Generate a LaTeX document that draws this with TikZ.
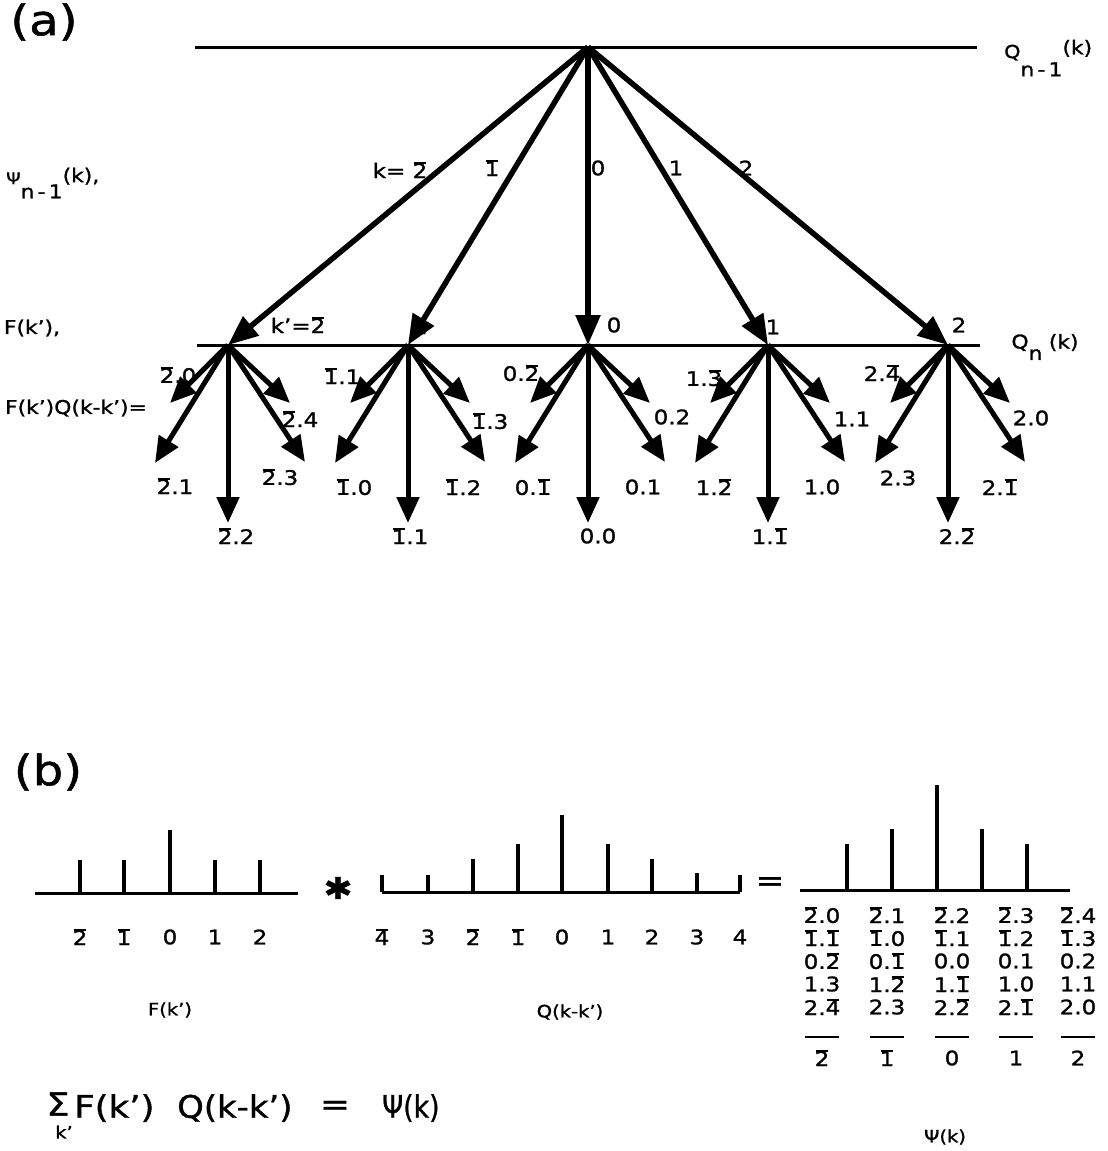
\documentclass[tikz,border=0pt]{standalone}
\usepackage{fontspec}
\setmainfont{DejaVu Sans}[FakeStretch=1.15,FakeBold=1.2]
\usetikzlibrary{arrows.meta}
\newcommand\ob[1]{\setbox0\hbox{#1}\rlap{\hbox to\wd0{\hss\rule[0.68em]{0.85\wd0}{0.12em}\hss}}#1}
\newcommand\fs[1]{\fontsize{#1}{#1}\selectfont}
\tikzset{
  axisline/.style={line width=3pt},
  bigarrow/.style={line width=5.5pt,-{Triangle[length=30pt,width=24pt]}},
  smallarrow/.style={line width=5pt,-{Triangle[length=26pt,width=22pt]}},
  lbl/.style={font=\fs{20}, inner sep=0pt},
  side/.style={font=\fs{19}, inner sep=0pt},
  tiny/.style={font=\fs{17}, inner sep=0pt},
  stem/.style={line width=4.5pt},
  tbl/.style={font=\fs{20}, inner sep=0pt},
  eqn/.style={font=\fs{31}, inner sep=0pt}
}
\begin{document}
\begin{tikzpicture}[x=1pt,y=-1pt]
\useasboundingbox[fill=white] (0,0) rectangle (1108,1151);
% ---------------- (a)
\node[font=\fs{42},inner sep=0pt] (pa) at (44,22) {(a)};
\coordinate (L1) at (195,47); \coordinate (R1) at (977,47);
\draw[axisline] (L1) -- (R1);
\coordinate (T) at (588,47);
\foreach \n/\x in {1/228,2/408,3/588,4/768,5/948} \coordinate (N\n) at (\x,345);
\coordinate (L2) at (197,345); \coordinate (R2) at (980,345);
\draw[axisline] (L2) -- (R2);
\foreach \n in {1,...,5} \draw[bigarrow] (T) -- (N\n);
\foreach \n in {1,...,5} {
  \coordinate (N\n-a) at ([shift={(-58,58)}]N\n);
  \coordinate (N\n-b) at ([shift={(-73,118)}]N\n);
  \coordinate (N\n-c) at ([shift={(0,178)}]N\n);
  \coordinate (N\n-d) at ([shift={(62,58)}]N\n);
  \coordinate (N\n-e) at ([shift={(77,117)}]N\n);
  \draw[smallarrow] (N\n) -- (N\n-a);
  \draw[smallarrow] (N\n) -- (N\n-b);
  \draw[smallarrow] (N\n) -- (N\n-c);
  \draw[smallarrow] (N\n) -- (N\n-d);
  \draw[smallarrow] (N\n) -- (N\n-e);
}
% side labels
\node[side,anchor=west] (qn1) at (1004,58) {{\fs{18}Q}\raisebox{-0.95em}{n\,-\,1}\raisebox{0.2em}{(k)}};
\node[side,anchor=west] (psin1) at (6,183) {{\fs{16}Ψ}\raisebox{-0.75em}{n\,-\,1}\raisebox{0.1em}{(k),}};
\node[side] (qn) at (1045,347) {Q\raisebox{-0.6em}{n}\,\,(k)};
\node[side] (fk) at (32,328) {F(k'),};
\node[side] (fkq) at (76,408) {F(k')Q(k-k')=};
% first-level labels
\node[lbl] (k1) at (400,170) {k= \ob{2}};
\node[lbl] (k2) at (492,168) {\ob{1}};
\node[lbl] (k3) at (598,168) {0};
\node[lbl] (k4) at (676,168) {1};
\node[lbl] (k5) at (746,168) {2};
\node[lbl] (kp1) at (298,325) {k'=\ob{2}};
\node[lbl] (kp2) at (420,326) {\ob{1}};
\node[lbl] (kp3) at (614,325) {0};
\node[lbl] (kp4) at (773,327) {1};
\node[lbl] (kp5) at (959,325) {2};
% second-level labels
\node[lbl] (g1a) at (178,375) {\ob{2}.0};
\node[lbl] (g1d) at (300,419) {\ob{2}.4};
\node[lbl] (g1b) at (175,486) {\ob{2}.1};
\node[lbl] (g1e) at (280,477) {\ob{2}.3};
\node[lbl] (g1c) at (236,536) {\ob{2}.2};
\node[lbl] (g2a) at (342,376) {\ob{1}.1};
\node[lbl] (g2d) at (490,421) {\ob{1}.3};
\node[lbl] (g2b) at (354,487) {\ob{1}.0};
\node[lbl] (g2e) at (463,487) {\ob{1}.2};
\node[lbl] (g2c) at (410,536) {\ob{1}.1};
\node[lbl] (g3a) at (521,373) {0.\ob{2}};
\node[lbl] (g3d) at (672,417) {0.2};
\node[lbl] (g3b) at (533,487) {0.\ob{1}};
\node[lbl] (g3e) at (643,487) {0.1};
\node[lbl] (g3c) at (598,536) {0.0};
\node[lbl] (g4a) at (704,378) {1.\ob{3}};
\node[lbl] (g4d) at (852,419) {1.1};
\node[lbl] (g4b) at (714,487) {1.\ob{2}};
\node[lbl] (g4e) at (822,487) {1.0};
\node[lbl] (g4c) at (770,536) {1.\ob{1}};
\node[lbl] (g5a) at (882,373) {2.\ob{4}};
\node[lbl] (g5d) at (1031,418) {2.0};
\node[lbl] (g5b) at (898,478) {2.3};
\node[lbl] (g5e) at (1000,487) {2.\ob{1}};
\node[lbl] (g5c) at (957,536) {2.\ob{2}};
% ---------------- (b)
\node[font=\fs{42},inner sep=0pt] (pb) at (48,772) {(b)};
% F(k')
\coordinate (FL) at (35,893); \coordinate (FR) at (298,893);
\draw[axisline] (FL) -- (FR);
\foreach \x/\t/\l in {80/860/\ob{2},124/860/\ob{1},170/830/0,215/860/1,260/860/2}{
  \coordinate (fb\x) at (\x,893); \coordinate (ft\x) at (\x,\t);
  \draw[stem] (fb\x) -- (ft\x);
  \node[lbl] (fl\x) at (\x,937) {\l};
}
\node[tiny] (flab) at (170,1010) {F(k')};
\node[font=\fs{30},inner sep=0pt] (star) at (338,888) {✱};
% Q(k-k')
\coordinate (QL) at (382,892); \coordinate (QR) at (740,892);
\draw[axisline] (QL) -- (QR);
\foreach \x/\t/\l in {382/875/\ob{4},428/875/3,473/859/\ob{2},518/844/\ob{1},562/815/0,608/844/1,652/859/2,697/873/3,740/875/4}{
  \coordinate (qb\x) at (\x,892); \coordinate (qt\x) at (\x,\t);
  \draw[stem] (qb\x) -- (qt\x);
  \node[lbl] (ql\x) at (\x,937) {\l};
}
\node[tiny] (qlab) at (570,1012) {Q(k-k')};
\node[font=\fs{30},inner sep=0pt] (eq1) at (770,884) {=};
% Psi(k)
\coordinate (PL) at (800,890); \coordinate (PR) at (1070,890);
\draw[axisline] (PL) -- (PR);
\foreach \x/\t in {847/844,892/829,937/785,982/829,1027/844}{
  \coordinate (pb\x) at (\x,890); \coordinate (pt\x) at (\x,\t);
  \draw[stem] (pb\x) -- (pt\x);
}
% table
\foreach \c/\x in {1/822,2/887,3/952,4/1016,5/1078}{
  \coordinate (dl\c) at (\x-17,1037); \coordinate (dr\c) at (\x+17,1037);
  \draw[line width=2.5pt] (dl\c) -- (dr\c);
}
\node[tbl] (r11) at (822,915) {\ob{2}.0};
\node[tbl] (r12) at (887,915) {\ob{2}.1};
\node[tbl] (r13) at (952,915) {\ob{2}.2};
\node[tbl] (r14) at (1016,915) {\ob{2}.3};
\node[tbl] (r15) at (1078,915) {\ob{2}.4};
\node[tbl] (r21) at (822,938) {\ob{1}.\ob{1}};
\node[tbl] (r22) at (887,938) {\ob{1}.0};
\node[tbl] (r23) at (952,938) {\ob{1}.1};
\node[tbl] (r24) at (1016,938) {\ob{1}.2};
\node[tbl] (r25) at (1078,938) {\ob{1}.3};
\node[tbl] (r31) at (822,961) {0.\ob{2}};
\node[tbl] (r32) at (887,961) {0.\ob{1}};
\node[tbl] (r33) at (952,961) {0.0};
\node[tbl] (r34) at (1016,961) {0.1};
\node[tbl] (r35) at (1078,961) {0.2};
\node[tbl] (r41) at (822,984) {1.3};
\node[tbl] (r42) at (887,984) {1.\ob{2}};
\node[tbl] (r43) at (952,984) {1.\ob{1}};
\node[tbl] (r44) at (1016,984) {1.0};
\node[tbl] (r45) at (1078,984) {1.1};
\node[tbl] (r51) at (822,1007) {2.\ob{4}};
\node[tbl] (r52) at (887,1007) {2.3};
\node[tbl] (r53) at (952,1007) {2.\ob{2}};
\node[tbl] (r54) at (1016,1007) {2.\ob{1}};
\node[tbl] (r55) at (1078,1007) {2.0};
\node[lbl] (b1) at (822,1058) {\ob{2}};
\node[lbl] (b2) at (887,1058) {\ob{1}};
\node[lbl] (b3) at (952,1058) {0};
\node[lbl] (b4) at (1016,1058) {1};
\node[lbl] (b5) at (1078,1058) {2};
\node[tiny] (psilab) at (945,1137) {Ψ(k)};
% formula
\node[font=\fs{32},inner sep=0pt] (sig) at (58,1104) {Σ};
\node[font=\fs{17},inner sep=0pt] (sigk) at (64,1132) {k'};
\node[eqn,anchor=west] (fq1) at (74,1108) {F(k')};
\node[eqn,anchor=west] (fq2) at (177,1108) {\scalebox{0.95}[1]{Q(k-k')}};
\node[eqn] (eq2) at (335,1108) {=};
\node[eqn,anchor=west] (psik) at (382,1108) {\scalebox{0.75}[1]{Ψ(k)}};
\end{tikzpicture}
\end{document}
